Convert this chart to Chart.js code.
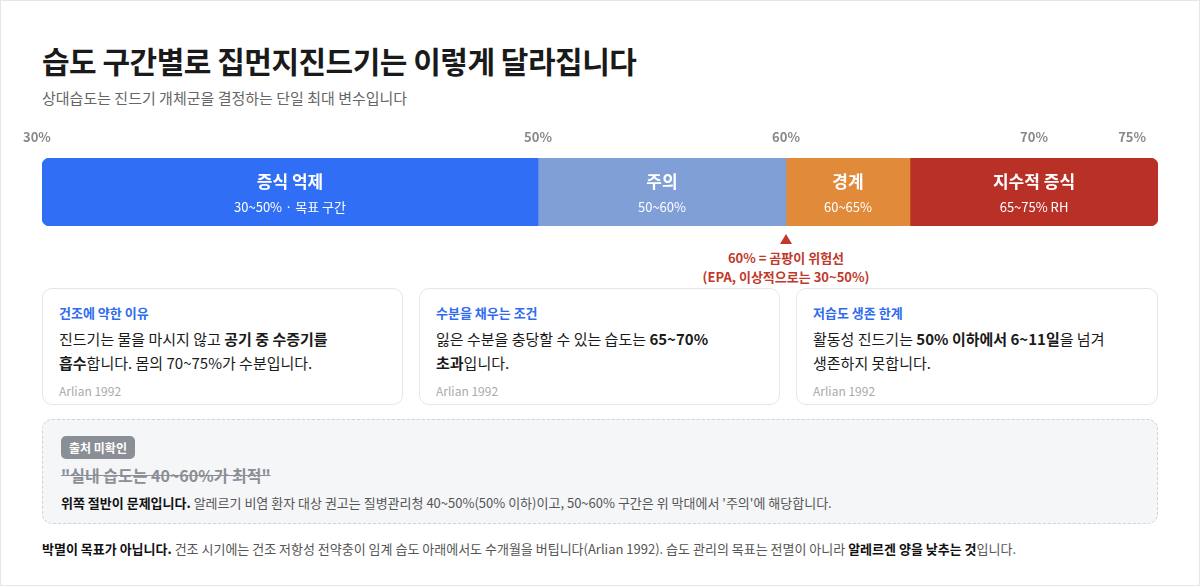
<!DOCTYPE html>
<html><head><meta charset="utf-8">
<script src="https://cdn.jsdelivr.net/npm/chart.js@4"></script>
<style>
*{box-sizing:border-box;margin:0;padding:0}
body{width:1200px;height:586px;background:#fff;font-family:"Noto Sans CJK KR","Noto Sans",sans-serif;color:#1a1a1a;position:relative;overflow:hidden}
.frame{position:absolute;left:0;top:0;width:1200px;height:586px;border:1px solid #e6e6e6}
h1{position:absolute;left:42px;top:38px;font-size:30px;font-weight:700;letter-spacing:-0.5px}
.sub{position:absolute;left:42px;top:87px;font-size:15px;color:#666}
#wrap{position:absolute;left:20px;top:126px;width:1160px;height:101px}
.tri{position:absolute;left:780px;top:234px;width:0;height:0;border-left:6px solid transparent;border-right:6px solid transparent;border-bottom:10px solid #c0392b}
.warn{position:absolute;left:636px;width:300px;top:248px;text-align:center;color:#c0392b;font-size:13px;font-weight:700;line-height:19px}
.card{position:absolute;top:288px;height:117px;border:1px solid #e5e7eb;border-radius:10px;padding:14px 16px;word-break:keep-all}
.card .t{color:#2f6bf0;font-size:13px;font-weight:700}
.card .b{font-size:15px;line-height:24px;margin-top:5px}
.card .s{color:#aaa;font-size:12px;margin-top:7px}
.note{position:absolute;left:42px;top:419px;width:1116px;height:105px;border:1px dashed #cfd3d8;border-radius:10px;background:#f5f6f8;padding:14px 18px}
.badge{display:inline-block;background:#8a8f96;color:#fff;font-size:12px;font-weight:700;padding:3px 8px;border-radius:5px}
.strike{color:#8a8f96;font-size:16px;font-weight:700;text-decoration:line-through;margin-top:4px}
.nb{font-size:13px;color:#555;margin-top:6px}
.nb b{color:#111}
.foot{position:absolute;left:42px;top:539px;font-size:13px;color:#555}
.foot b{color:#111}
</style></head><body>
<div class="frame"></div>
<h1>습도 구간별로 집먼지진드기는 이렇게 달라집니다</h1>
<div class="sub">상대습도는 진드기 개체군을 결정하는 단일 최대 변수입니다</div>
<div id="wrap"><canvas id="c"></canvas></div>
<div class="tri"></div>
<div class="warn">60% = 곰팡이 위험선<br>(EPA, 이상적으로는 30~50%)</div>
<div class="card" style="left:42px;width:361px"><div class="t">건조에 약한 이유</div><div class="b">진드기는 물을 마시지 않고 <b>공기 중 수증기를 흡수</b>합니다. 몸의 70~75%가 수분입니다.</div><div class="s">Arlian 1992</div></div>
<div class="card" style="left:419px;width:361px"><div class="t">수분을 채우는 조건</div><div class="b">잃은 수분을 충당할 수 있는 습도는 <b>65~70% 초과</b>입니다.</div><div class="s">Arlian 1992</div></div>
<div class="card" style="left:796px;width:362px"><div class="t">저습도 생존 한계</div><div class="b">활동성 진드기는 <b>50% 이하에서 6~11일</b>을 넘겨 생존하지 못합니다.</div><div class="s">Arlian 1992</div></div>
<div class="note"><span class="badge">출처 미확인</span><div class="strike">"실내 습도는 40~60%가 최적"</div><div class="nb"><b>위쪽 절반이 문제입니다.</b> 알레르기 비염 환자 대상 권고는 질병관리청 40~50%(50% 이하)이고, 50~60% 구간은 위 막대에서 '주의'에 해당합니다.</div></div>
<div class="foot"><b>박멸이 목표가 아닙니다.</b> 건조 시기에는 건조 저항성 전약충이 임계 습도 아래에서도 수개월을 버팁니다(Arlian 1992). 습도 관리의 목표는 전멸이 아니라 <b>알레르겐 양을 낮추는 것</b>입니다.</div>
<script>
const zoneNames=["증식 억제","주의","경계","지수적 증식"];
const zoneSubs=["30~50% · 목표 구간","50~60%","60~65%","65~75% RH"];
const zoneStart=[30,50,60,65];
const zoneEnd=[50,60,65,75];
const zoneColors=["#316ef6","#7f9fd6","#e08a3a","#b93126"];
const tickValues=[30,50,60,70,75];
const ds=zoneNames.map((n,i)=>({label:n,data:[[zoneStart[i],zoneEnd[i]]],backgroundColor:zoneColors[i],borderSkipped:false,
 borderRadius:i===0?{topLeft:8,bottomLeft:8}:i===3?{topRight:8,bottomRight:8}:0,barPercentage:1,categoryPercentage:1}));
const labelPlugin={id:'lbl',afterDatasetsDraw(ch){const ctx=ch.ctx;const x=ch.scales.x,y=ch.scales.y;const yc=y.getPixelForValue(0);
 ctx.save();ctx.fillStyle='#fff';ctx.textAlign='center';ctx.textBaseline='middle';
 zoneNames.forEach((n,i)=>{const xc=x.getPixelForValue((zoneStart[i]+zoneEnd[i])/2);
  ctx.font='bold 17px "Noto Sans CJK KR"';ctx.fillText(n,xc,yc-10);
  ctx.font='13px "Noto Sans CJK KR"';ctx.fillText(zoneSubs[i],xc,yc+15);});
 ctx.fillStyle='#888';ctx.font='bold 13px "Noto Sans CJK KR"';
 tickValues.forEach((v,i)=>{let px=x.getPixelForValue(v);
  if(i===0){ctx.textAlign='left';px-=19;}else if(i===tickValues.length-1){ctx.textAlign='right';px-=12;}else ctx.textAlign='center';
  ctx.fillText(v+'%',px,11);});
 ctx.restore();}};
new Chart(document.getElementById('c'),{type:'bar',data:{labels:['RH'],datasets:ds},plugins:[labelPlugin],
options:{indexAxis:'y',responsive:true,maintainAspectRatio:false,animation:false,layout:{padding:{top:32,left:22,right:22,bottom:1}},
plugins:{legend:{display:false},tooltip:{enabled:false}},
scales:{x:{display:false,min:30,max:75},
 y:{display:false,stacked:true}}}});
</script>
</body></html>
